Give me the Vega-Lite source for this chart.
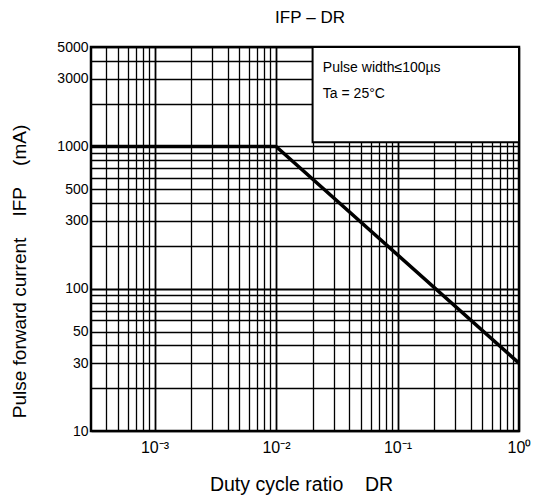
{
  "$schema": "https://vega.github.io/schema/vega-lite/v6.json",
  "width": 428,
  "height": 384,
  "autosize": {"type": "none"},
  "padding": {"left": 91, "top": 47, "right": 15, "bottom": 70},
  "background": "white",
  "title": {
    "text": "IFP\u00a0–\u00a0DR",
    "anchor": "middle",
    "frame": "group",
    "fontSize": 17,
    "fontWeight": "normal",
    "font": "Liberation Sans",
    "color": "black",
    "offset": 13,
    "dx": 5
  },
  "config": {
    "view": {"stroke": "black", "strokeWidth": 2.5},
    "font": "Liberation Sans",
    "axis": {
      "domain": false,
      "ticks": false,
      "grid": true,
      "gridColor": "black",
      "gridOpacity": 1,
      "labelColor": "black",
      "labelFont": "Liberation Sans",
      "labelFontSize": 14,
      "titleFont": "Liberation Sans",
      "titleFontSize": 19,
      "titleFontWeight": "normal",
      "titleColor": "black",
      "labelOverlap": false,
      "labelBound": false,
      "labelFlush": false
    }
  },
  "datasets": {
    "curve": [
      {"duty": 0.0003, "ifp": 1000},
      {"duty": 0.01, "ifp": 1000},
      {"duty": 1, "ifp": 30}
    ],
    "box": [
      {"x1": 0.02, "x2": 1, "y1": 1070, "y2": 5000}
    ],
    "notes": [
      {"tx": 0.0243, "ty": 3580, "label": "Pulse width≤100µs"},
      {"tx": 0.0243, "ty": 2355, "label": "Ta = 25°C"}
    ]
  },
  "layer": [
    {
      "data": {"name": "box"},
      "mark": {"type": "rect", "fill": "white", "stroke": "black", "strokeWidth": 2},
      "encoding": {
        "x": {
          "field": "x1", "type": "quantitative",
          "scale": {"type": "log", "domain": [0.0003, 1], "nice": false},
          "axis": {
            "values": [0.0004, 0.0005, 0.0006, 0.0007, 0.0008, 0.0009, 0.001, 0.002, 0.003, 0.004, 0.005, 0.006, 0.007, 0.008, 0.009, 0.01, 0.02, 0.03, 0.04, 0.05, 0.06, 0.07, 0.08, 0.09, 0.1, 0.2, 0.3, 0.4, 0.5, 0.6, 0.7, 0.8, 0.9, 1],
            "labelExpr": "datum.value == 0.001 ? '10⁻³' : datum.value == 0.01 ? '10⁻²' : datum.value == 0.1 ? '10⁻¹' : datum.value == 1 ? '10⁰' : ''",
            "labelFontSize": 16,
            "labelPadding": 8,
            "gridWidth": {"condition": {"test": "datum.value == 0.001 || datum.value == 0.01 || datum.value == 0.1", "value": 1.8}, "value": 1.3},
            "title": "Duty cycle ratio\u00a0\u00a0\u00a0\u00a0DR",
            "titleFontSize": 19.5,
            "titleX": 210,
            "titleY": 44
          }
        },
        "x2": {"field": "x2"},
        "y": {
          "field": "y1", "type": "quantitative",
          "scale": {"type": "log", "domain": [10, 5000], "nice": false},
          "axis": {
            "values": [10, 20, 30, 40, 50, 60, 70, 80, 90, 100, 200, 300, 400, 500, 600, 700, 800, 900, 1000, 2000, 3000, 4000, 5000],
            "labelExpr": "indexof([10, 30, 50, 100, 300, 500, 1000, 3000, 5000], datum.value) >= 0 ? datum.label : ''",
            "format": "d",
            "labelPadding": 3,
            "gridWidth": {"condition": {"test": "datum.value == 100", "value": 1.8}, "value": 1.3},
            "title": "Pulse forward current\u00a0\u00a0\u00a0\u00a0IFP\u00a0\u00a0\u00a0\u00a0(mA)",
            "titleX": -62,
            "titleY": 224
          }
        },
        "y2": {"field": "y2"}
      }
    },
    {
      "data": {"name": "curve"},
      "mark": {"type": "line", "color": "black", "strokeWidth": 3.5, "clip": true},
      "encoding": {
        "x": {"field": "duty", "type": "quantitative"},
        "y": {"field": "ifp", "type": "quantitative"}
      }
    },
    {
      "data": {"name": "notes"},
      "mark": {"type": "text", "align": "left", "baseline": "middle", "fontSize": 14, "color": "black", "font": "Liberation Sans"},
      "encoding": {
        "x": {"field": "tx", "type": "quantitative"},
        "y": {"field": "ty", "type": "quantitative"},
        "text": {"field": "label"}
      }
    }
  ]
}
